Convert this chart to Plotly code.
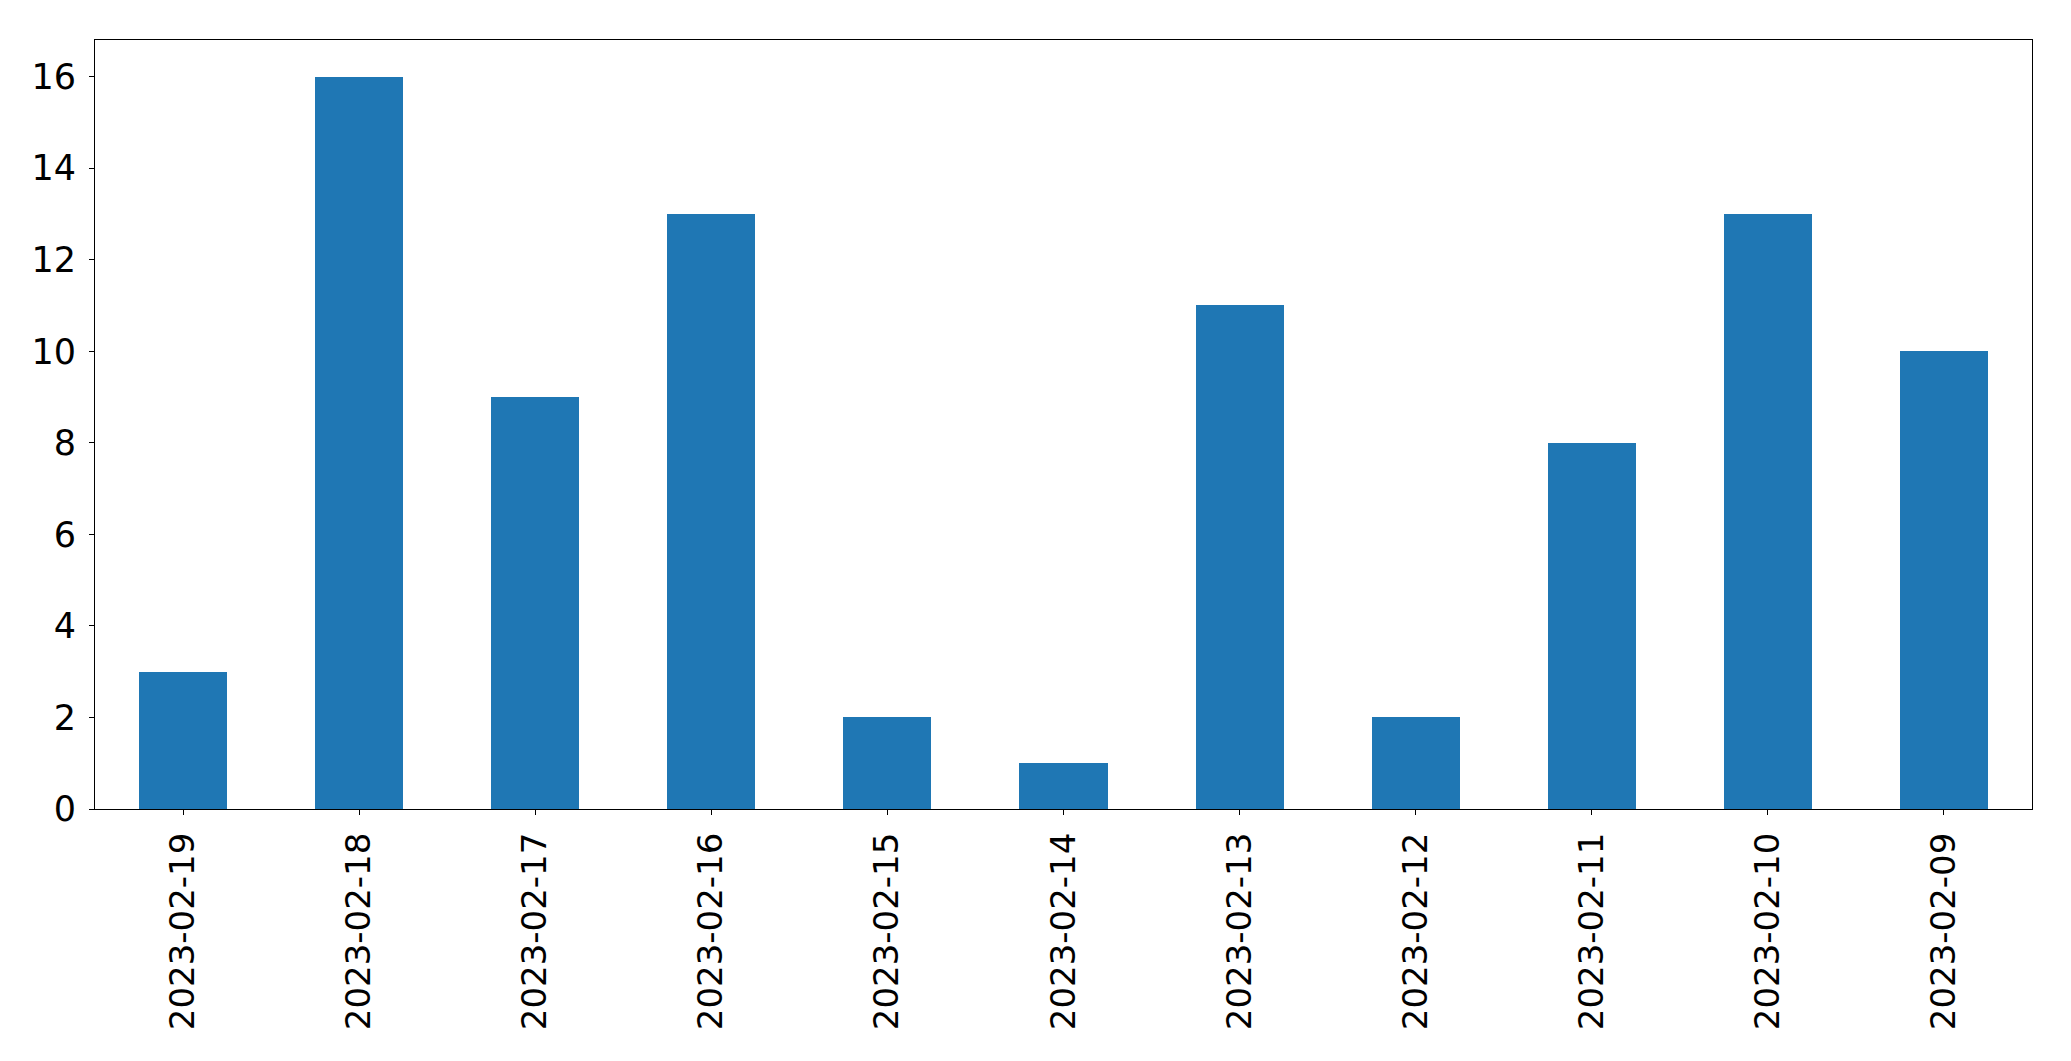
import plotly.graph_objects as go

dates = ["2023-02-19", "2023-02-18", "2023-02-17", "2023-02-16", "2023-02-15",
         "2023-02-14", "2023-02-13", "2023-02-12", "2023-02-11", "2023-02-10", "2023-02-09"]
counts = [3, 16, 9, 13, 2, 1, 11, 2, 8, 13, 10]
y_ticks = [0, 2, 4, 6, 8, 10, 12, 14, 16]

fig = go.Figure(go.Bar(x=dates, y=counts, marker_color="#1f77b4",
                       marker_line_width=0, width=0.5))

axis_common = dict(showline=True, linecolor="black", linewidth=1.1, mirror=True,
                   ticks="outside", ticklen=5, tickwidth=1.1, tickcolor="black",
                   showgrid=False, zeroline=False, automargin=False)

fig.update_layout(
    width=2063, height=1053,
    margin=dict(l=86.5, r=38.5, t=31.5, b=252),
    plot_bgcolor="white", paper_bgcolor="white",
    showlegend=False, bargap=0,
    xaxis=dict(type="category", range=[-0.5, 10.5], tickangle=-90,
               ticklabelstandoff=4,
               tickfont=dict(family="DejaVu Sans", size=34, color="black"),
               **axis_common),
    yaxis=dict(range=[0, 16.8], tickvals=y_ticks, ticklabelstandoff=6,
               tickfont=dict(family="DejaVu Sans", size=35, color="black"),
               **axis_common),
)

fig.write_html("out.html")
